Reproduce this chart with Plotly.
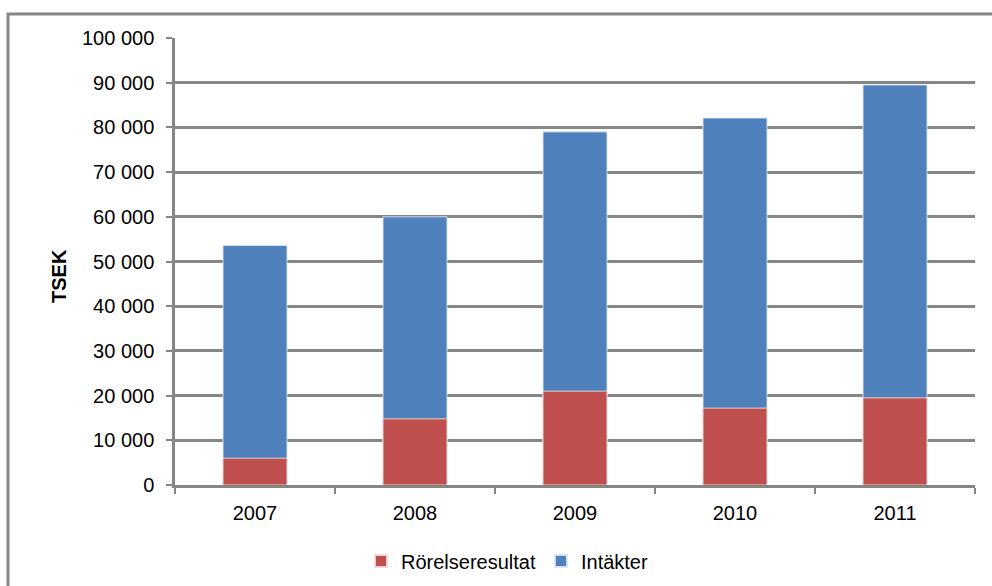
import plotly.graph_objects as go

years = ["2007", "2008", "2009", "2010", "2011"]
intakter = [53600, 60000, 79000, 82100, 89500]
rorelseresultat = [6000, 14800, 21000, 17200, 19500]
y_ticks = [0, 10000, 20000, 30000, 40000, 50000, 60000, 70000, 80000, 90000, 100000]
y_tick_labels = ["0", "10 000", "20 000", "30 000", "40 000", "50 000",
                 "60 000", "70 000", "80 000", "90 000", "100 000"]

BLUE = "#4F81BD"
RED = "#C0504D"
GRID = "#868686"

fig = go.Figure()
fig.add_trace(go.Bar(x=years, y=intakter, name="Intäkter", marker_color=BLUE,
                     marker_line=dict(color="rgba(220,230,245,0.9)", width=1),
                     legendrank=2))
fig.add_trace(go.Bar(x=years, y=rorelseresultat, name="Rörelseresultat", marker_color=RED,
                     marker_line=dict(color="rgba(240,220,220,0.9)", width=1),
                     legendrank=1))

L, R, T, B = 175, 17, 38, 101
W, H = 992, 586
pw, ph = W - L - R, H - T - B

def px_x(x):
    return (x - L) / pw

def px_y(y):
    return (H - B - y) / ph

FS = 20

fig.update_layout(
    width=W, height=H,
    margin=dict(l=L, r=R, t=T, b=B, autoexpand=False),
    barmode="overlay",
    bargap=0.6,
    paper_bgcolor="white",
    plot_bgcolor="white",
    font=dict(family="Liberation Sans, Arial, sans-serif", size=FS, color="black"),
    showlegend=True,
    legend=dict(orientation="h", x=px_x(507), xanchor="center", y=px_y(561), yanchor="middle",
                font=dict(size=FS), itemsizing="constant", traceorder="normal",
                itemwidth=30, tracegroupgap=0),
    xaxis=dict(showline=True, linecolor=GRID, linewidth=2.5, ticks="outside",
               tickson="boundaries", tickcolor=GRID, tickwidth=2, ticklen=6,
               showgrid=False, tickfont=dict(size=FS), automargin=False,
               ticklabelstandoff=8),
    yaxis=dict(range=[0, 100000], tickvals=y_ticks, ticktext=y_tick_labels,
               showgrid=True, gridcolor=GRID, gridwidth=2.5,
               showline=True, linecolor=GRID, linewidth=2.5,
               ticks="outside", tickcolor=GRID, tickwidth=2, ticklen=6,
               zeroline=False, tickfont=dict(size=FS), automargin=False,
               ticklabelstandoff=8),
    annotations=[dict(text="<b>TSEK</b>", xref="paper", yref="paper",
                      x=px_x(59), y=px_y(276), textangle=-90, showarrow=False,
                      xanchor="center", yanchor="middle", font=dict(size=FS))],
    shapes=[dict(type="rect", xref="paper", yref="paper",
                 x0=px_x(8), x1=px_x(1000), y0=px_y(600), y1=px_y(14),
                 line=dict(color=GRID, width=3), fillcolor="rgba(0,0,0,0)", layer="below")],
)

fig.write_html("out.html", config={"displayModeBar": False},
               post_script="document.body.style.margin='0';document.body.style.overflow='hidden';")
